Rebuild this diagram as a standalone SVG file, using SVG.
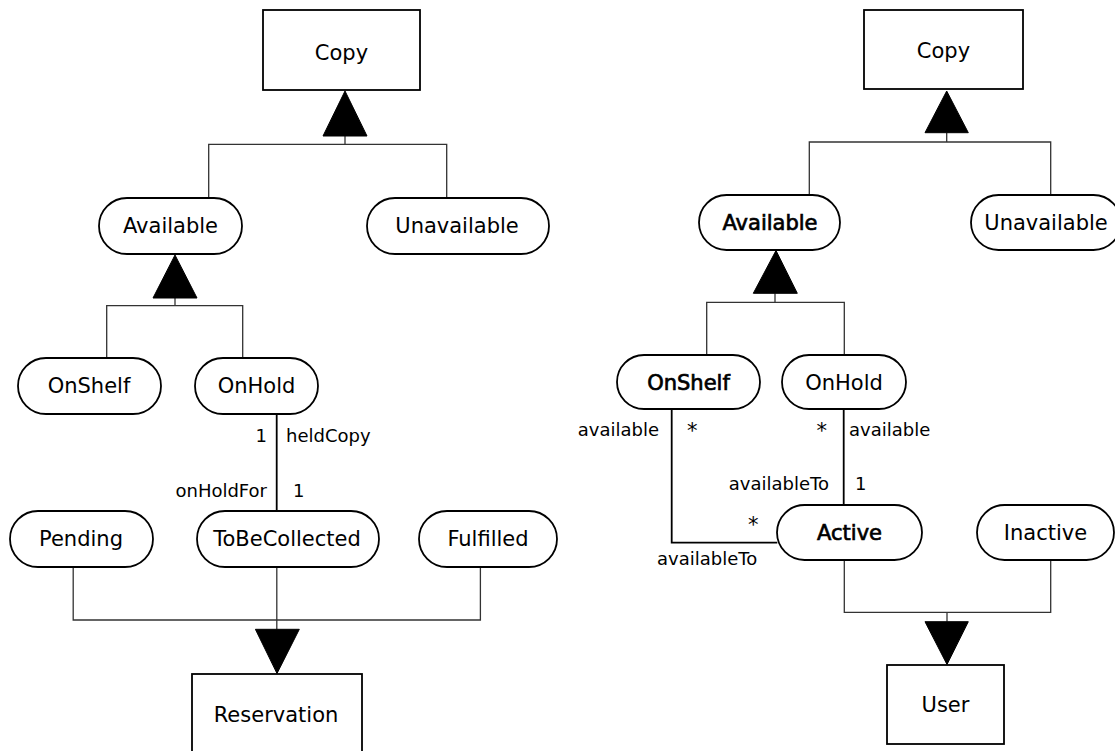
<svg xmlns="http://www.w3.org/2000/svg" width="1115" height="751" viewBox="0 0 1115 751">
<style>
  .box { fill: #ffffff; stroke: #000000; stroke-width: 1.8; }
  .state { fill: #ffffff; stroke: #000000; stroke-width: 1.8; }
  .name { font-family: "DejaVu Sans", "Liberation Sans", sans-serif; font-size: 21px; fill: #000000; text-anchor: middle; }
  .bold { stroke: #000000; stroke-width: 0.7; }
  .lbl { font-family: "DejaVu Sans", "Liberation Sans", sans-serif; font-size: 18px; fill: #000000; }
  .star { font-size: 21px; }
  .end { text-anchor: end; }
  .gen { fill: none; stroke: #333333; stroke-width: 1.3; }
  .assoc { fill: none; stroke: #000000; stroke-width: 1.8; }
  .tri { fill: #000000; stroke: #000000; stroke-width: 1; }
</style>
<rect x="0" y="0" width="1115" height="751" fill="#ffffff"/>

<g id="connectors">
  <!-- Left: Copy generalization -->
  <polyline class="gen" points="208.7,198 208.7,144.3 446.7,144.3 446.7,198"/>
  <line class="gen" x1="345" y1="144.3" x2="345" y2="136"/>
  <polygon class="tri" points="345,91 323,136 367,136"/>
  <!-- Left: Available generalization -->
  <polyline class="gen" points="106.7,358 106.7,305.7 242.7,305.7 242.7,358"/>
  <line class="gen" x1="175" y1="305.7" x2="175" y2="298"/>
  <polygon class="tri" points="175,255 153,298 197,298"/>
  <!-- Left: OnHold - ToBeCollected association -->
  <line class="assoc" x1="276.7" y1="414" x2="276.7" y2="511"/>
  <text class="lbl end" x="267" y="442">1</text>
  <text class="lbl" x="286" y="442">heldCopy</text>
  <text class="lbl end" x="267" y="497">onHoldFor</text>
  <text class="lbl" x="293" y="497">1</text>
  <!-- Left: Reservation generalization -->
  <polyline class="gen" points="73.2,567 73.2,620 480.4,620 480.4,567"/>
  <line class="gen" x1="276.8" y1="567" x2="276.8" y2="629.3"/>
  <polygon class="tri" points="255.4,629.3 299.3,629.3 277,673.5"/>

  <!-- Right: Copy generalization -->
  <polyline class="gen" points="809.3,195 809.3,142 1050.7,142 1050.7,195"/>
  <line class="gen" x1="946.7" y1="142" x2="946.7" y2="132.7"/>
  <polygon class="tri" points="946.7,91 925,132.7 968.3,132.7"/>
  <!-- Right: Available generalization -->
  <polyline class="gen" points="706.7,355 706.7,302.3 844.3,302.3 844.3,355"/>
  <line class="gen" x1="775" y1="302.3" x2="775" y2="293.3"/>
  <polygon class="tri" points="776,250.5 753.3,293.3 797.3,293.3"/>
  <!-- Right: OnShelf - Active association -->
  <polyline class="assoc" points="671.7,409 671.7,542.7 777.3,542.7"/>
  <text class="lbl end" x="659" y="436">available</text>
  <text class="lbl star" x="687" y="438">*</text>
  <text class="lbl star" x="748" y="532">*</text>
  <text class="lbl" x="657" y="565">availableTo</text>
  <!-- Right: OnHold - Active association -->
  <line class="assoc" x1="843.7" y1="409" x2="843.7" y2="505"/>
  <text class="lbl star end" x="827" y="438">*</text>
  <text class="lbl" x="849" y="436">available</text>
  <text class="lbl end" x="829" y="490">availableTo</text>
  <text class="lbl" x="855" y="490">1</text>
  <!-- Right: User generalization -->
  <polyline class="gen" points="844.3,560 844.3,612.3 1050.7,612.3 1050.7,560"/>
  <line class="gen" x1="947" y1="612.3" x2="947" y2="621.7"/>
  <polygon class="tri" points="925,621.7 968.3,621.7 947,664.5"/>
</g>

<!-- Left diagram nodes -->
<g id="copy-left">
  <rect class="box" x="263" y="10" width="157" height="80"/>
  <text class="name" x="341.5" y="60">Copy</text>
</g>
<g id="available-left">
  <rect class="state" x="99" y="198" width="143" height="56" rx="28" ry="28"/>
  <text class="name" x="170.5" y="233">Available</text>
</g>
<g id="unavailable-left">
  <rect class="state" x="367" y="198" width="182" height="56" rx="28" ry="28"/>
  <text class="name" x="457" y="233">Unavailable</text>
</g>
<g id="onshelf-left">
  <rect class="state" x="18" y="358" width="143" height="56" rx="28" ry="28"/>
  <text class="name" x="89" y="393">OnShelf</text>
</g>
<g id="onhold-left">
  <rect class="state" x="195" y="358" width="123" height="56" rx="28" ry="28"/>
  <text class="name" x="256.5" y="393">OnHold</text>
</g>
<g id="pending">
  <rect class="state" x="10" y="511" width="143" height="56" rx="28" ry="28"/>
  <text class="name" x="81" y="546">Pending</text>
</g>
<g id="tobecollected">
  <rect class="state" x="197" y="511" width="182" height="56" rx="28" ry="28"/>
  <text class="name" x="287" y="546">ToBeCollected</text>
</g>
<g id="fulfilled">
  <rect class="state" x="419" y="511" width="138" height="56" rx="28" ry="28"/>
  <text class="name" x="488" y="546">Fulfilled</text>
</g>
<g id="reservation">
  <rect class="box" x="192" y="674" width="170" height="80"/>
  <text class="name" x="276" y="722">Reservation</text>
</g>

<!-- Right diagram nodes -->
<g id="copy-right">
  <rect class="box" x="864" y="10" width="159" height="79"/>
  <text class="name" x="943.5" y="58">Copy</text>
</g>
<g id="available-right">
  <rect class="state" x="699" y="195" width="141" height="55" rx="27.5" ry="27.5"/>
  <text class="name bold" x="770" y="230">Available</text>
</g>
<g id="unavailable-right">
  <rect class="state" x="971" y="195" width="150" height="55" rx="27.5" ry="27.5"/>
  <text class="name" x="1046" y="230">Unavailable</text>
</g>
<g id="onshelf-right">
  <rect class="state" x="617" y="355" width="143" height="54" rx="27" ry="27"/>
  <text class="name bold" x="688.5" y="390">OnShelf</text>
</g>
<g id="onhold-right">
  <rect class="state" x="782" y="355" width="124" height="54" rx="27" ry="27"/>
  <text class="name" x="844" y="390">OnHold</text>
</g>
<g id="active">
  <rect class="state" x="777" y="505" width="145" height="55" rx="27.5" ry="27.5"/>
  <text class="name bold" x="849.5" y="540">Active</text>
</g>
<g id="inactive">
  <rect class="state" x="977" y="505" width="137" height="55" rx="27.5" ry="27.5"/>
  <text class="name" x="1045.5" y="540">Inactive</text>
</g>
<g id="user">
  <rect class="box" x="887" y="665" width="117" height="79"/>
  <text class="name" x="945.5" y="712">User</text>
</g>
</svg>
